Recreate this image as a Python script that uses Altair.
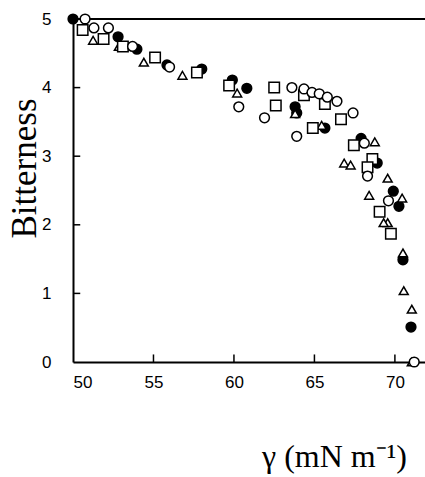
import altair as alt
import pandas as pd

# Filled circles
fc_x = [50.0, 52.8, 53.97, 55.84, 58.0, 59.9, 60.8, 63.8, 63.9, 65.65, 67.9, 68.9, 69.9, 70.25, 70.5, 71.0]
fc_y = [5.0, 4.74, 4.56, 4.33, 4.27, 4.11, 3.99, 3.72, 3.63, 3.41, 3.26, 2.90, 2.49, 2.27, 1.49, 0.51]
# Open circles
oc_x = [50.75, 51.3, 52.2, 53.7, 56.0, 60.3, 61.9, 63.6, 64.35, 64.85, 65.3, 65.8, 66.4, 67.4, 63.9, 68.1, 68.3, 69.6, 71.2]
oc_y = [5.0, 4.87, 4.87, 4.60, 4.30, 3.72, 3.56, 4.00, 3.98, 3.93, 3.91, 3.86, 3.80, 3.63, 3.29, 3.19, 2.71, 2.35, 0.0]
# Open squares
sq_x = [50.6, 51.9, 53.1, 55.1, 57.7, 59.7, 62.5, 62.6, 64.35, 64.9, 65.65, 66.65, 67.45, 68.6, 68.3, 69.05, 69.75]
sq_y = [4.84, 4.71, 4.60, 4.44, 4.22, 4.03, 4.00, 3.74, 3.89, 3.41, 3.76, 3.54, 3.16, 2.96, 2.84, 2.19, 1.87]
# Open triangles
tr_x = [51.25, 52.85, 54.4, 56.8, 60.2, 63.8, 65.45, 68.75, 66.85, 67.25, 69.55, 68.4, 70.45, 69.55, 69.3, 70.5, 70.55, 71.05, 71.05]
tr_y = [4.69, 4.60, 4.37, 4.18, 3.92, 3.62, 3.45, 3.21, 2.90, 2.87, 2.68, 2.43, 2.39, 2.03, 2.03, 1.59, 1.04, 0.77, 0.0]

x_ticks = [50, 55, 60, 65, 70]
y_ticks = [0, 1, 2, 3, 4, 5]
X_MIN, X_MAX = 50, 71.87
Y_MIN, Y_MAX = 0, 5

xs = alt.Scale(domain=[X_MIN, X_MAX], nice=False, zero=False)
ys = alt.Scale(domain=[Y_MIN, Y_MAX], nice=False, zero=False)

def df(xv, yv):
    return pd.DataFrame({"x": xv, "y": yv})

x_enc = alt.X("x:Q", scale=xs, axis=alt.Axis(
    values=x_ticks, format="d", title="γ (mN m⁻¹)", tickSize=0, labelPadding=12,
    labelFont="Liberation Sans", labelFontSize=17, labelColor="black",
    domainColor="black", domainWidth=2, grid=False,
    titleFont="Liberation Serif", titleFontSize=32, titleFontWeight="normal",
    titleColor="black", titleX=261, titleY=104, titleAlign="center",
    titleBaseline="alphabetic"))
y_enc = alt.Y("y:Q", scale=ys, axis=alt.Axis(
    values=y_ticks, format="d", title="Bitterness", tickSize=0, labelPadding=22,
    labelFont="Liberation Sans", labelFontSize=17, labelColor="black",
    domainColor="black", domainWidth=2, grid=False,
    titleFont="Liberation Serif", titleFontSize=35, titleFontWeight="normal",
    titleColor="black", titleX=-38, titleY=149, titleAlign="center",
    titleAngle=-90, titleBaseline="alphabetic"))

base_pt = dict(size=95, strokeWidth=1.5, opacity=1, stroke="black")

filled = alt.Chart(df(fc_x, fc_y)).mark_point(shape="circle", filled=True, fill="black", **base_pt).encode(x=x_enc, y=y_enc)
tri = alt.Chart(df(tr_x, tr_y)).mark_point(shape="triangle-up", filled=True, fill="white", **{**base_pt, "size": 80}).encode(x="x:Q", y="y:Q")
sq = alt.Chart(df(sq_x, sq_y)).mark_point(shape="square", filled=True, fill="white", **{**base_pt, "size": 110}).encode(x="x:Q", y="y:Q")
oc = alt.Chart(df(oc_x, oc_y)).mark_point(shape="circle", filled=True, fill="white", **base_pt).encode(x="x:Q", y="y:Q")

# inward tick marks
xt = alt.Chart(pd.DataFrame({"x": x_ticks[1:]})).mark_rule(color="black", strokeWidth=1.5).encode(
    x="x:Q", y=alt.datum(0), y2=alt.datum(0.11))
yt = alt.Chart(pd.DataFrame({"y": y_ticks[1:-1]})).mark_rule(color="black", strokeWidth=1.5).encode(
    y="y:Q", x=alt.datum(X_MIN), x2=alt.datum(X_MIN + 0.45))
top = alt.Chart(pd.DataFrame({"y": [Y_MAX]})).mark_rule(color="black", strokeWidth=2).encode(
    y="y:Q", x=alt.datum(X_MIN), x2=alt.datum(X_MAX))

chart = alt.layer(top, xt, yt, filled, tri, sq, oc).properties(
    width=352, height=343,
    autosize=alt.AutoSizeParams(type="none"),
    padding={"left": 73, "top": 19, "right": 0, "bottom": 115},
).configure_view(stroke=None).configure(background="white")

chart.save("out.html", embed_options={"renderer": "svg", "actions": False})
